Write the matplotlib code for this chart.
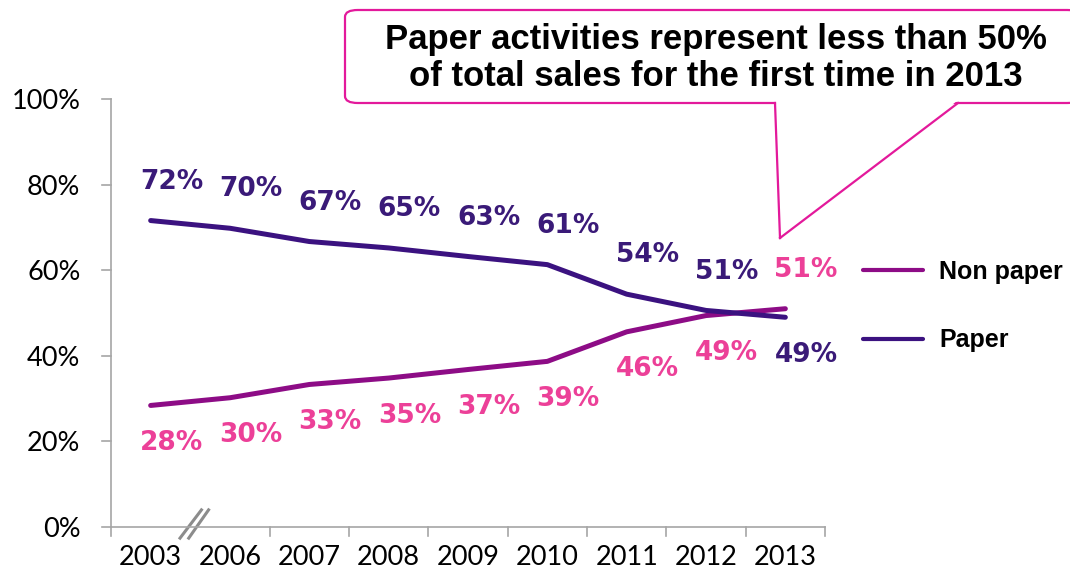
import matplotlib.pyplot as plt
from matplotlib.patches import FancyBboxPatch, Polygon
from matplotlib.lines import Line2D

years = ['2003', '2006', '2007', '2008', '2009', '2010', '2011', '2012', '2013']
paper = [71.6, 69.8, 66.7, 65.2, 63.2, 61.3, 54.4, 50.6, 49.0]
non_paper = [28.4, 30.2, 33.3, 34.8, 36.8, 38.7, 45.6, 49.4, 51.0]
y_ticks = [0, 20, 40, 60, 80, 100]
callout = 'Paper activities represent less than 50%\nof total sales for the first time in 2013'

c_paper = '#3b1280'
c_paper_lbl = '#3a1a78'
c_non = '#8d0c86'
c_non_lbl = '#ec4098'
c_pink = '#e3199b'
c_axis = '#a6a6a6'

W, H = 1070, 573
fig = plt.figure(figsize=(W / 100, H / 100), dpi=100)
ax = fig.add_axes([111 / W, 1 - 527 / H, (825 - 111) / W, (527 - 99) / H])

x = list(range(len(years)))
ln_non, = ax.plot(x, non_paper, color=c_non, lw=3.6, solid_capstyle='round')
ln_pap, = ax.plot(x, paper, color=c_paper, lw=3.6, solid_capstyle='round')

# data labels: higher series above the line, lower one below
for i in x:
    for vals, other, col in ((paper, non_paper, c_paper_lbl), (non_paper, paper, c_non_lbl)):
        v = vals[i]
        above = v >= other[i]
        ax.annotate(f'{round(v)}%', (i, v), xytext=(15, 28 if above else -27),
                    textcoords='offset points', ha='center', va='center',
                    color=col, fontsize=19, fontweight='bold', family='DejaVu Sans')

ax.set_xlim(-0.5, len(years) - 0.5)
ax.set_ylim(0, 100)
ax.set_yticks(y_ticks)
ax.set_yticklabels([f'{t}%' for t in y_ticks])
ax.set_xticks(x)
ax.set_xticklabels(years)
ax.tick_params(axis='x', length=0, pad=13)
ax.tick_params(axis='y', length=0, pad=22)
for lab in ax.get_xticklabels() + ax.get_yticklabels():
    lab.set_family('Lato')
    lab.set_fontsize(19.5)
    lab.set_color('black')

for s in ('top', 'right'):
    ax.spines[s].set_visible(False)
for s in ('left', 'bottom'):
    ax.spines[s].set_color(c_axis)
    ax.spines[s].set_linewidth(1.2)

# tick marks on category boundaries, none at the break
xt = ax.get_xaxis_transform()
for b in [-0.5] + [k + 0.5 for k in range(1, len(years))]:
    ax.plot([b, b], [0, -0.02], color=c_axis, lw=1.2, transform=xt, clip_on=False)
yt = ax.get_yaxis_transform()
for t in y_ticks:
    ax.plot([-0.013, 0], [t, t], color=c_axis, lw=1.2, transform=yt, clip_on=False)

# axis break marks
for x0, x1 in ((0.37, 0.64), (0.48, 0.73)):
    ax.plot([x0, x1], [-0.026, 0.04], color='#8c8c8c', lw=2.2, transform=xt, clip_on=False)

leg = fig.legend([ln_non, ln_pap], ['Non paper', 'Paper'], loc='center left',
                 bbox_to_anchor=(863 / W, 1 - 306 / H), frameon=False,
                 handlelength=2.4, handletextpad=0.65, labelspacing=1.8,
                 borderpad=0, borderaxespad=0,
                 prop={'family': 'Liberation Sans', 'weight': 'bold', 'size': 18})
for h in leg.get_lines():
    h.set_linewidth(3)


def fp(px, py):
    return px / W, 1 - py / H


# callout box with pointer
bx0, by0 = fp(345, 103)
bx1, by1 = fp(1080, 10)
box = FancyBboxPatch((bx0, by0), bx1 - bx0, by1 - by0,
                     boxstyle='round,pad=0,rounding_size=0.012',
                     transform=fig.transFigure, facecolor='white',
                     edgecolor=c_pink, lw=1.6, clip_on=True)
fig.add_artist(box)
wedge = Polygon([fp(776, 101), fp(780, 238), fp(957, 101)], closed=True,
                transform=fig.transFigure, facecolor='white', edgecolor='none')
fig.add_artist(wedge)
for a, b in ((fp(775, 103), fp(780, 238)), (fp(780, 238), fp(958, 103))):
    fig.add_artist(Line2D([a[0], b[0]], [a[1], b[1]], transform=fig.transFigure,
                          color=c_pink, lw=1.6))
tx, ty = fp(716, 58)
fig.text(tx, ty, callout, ha='center', va='center', fontsize=25,
         fontweight='bold', family='Liberation Sans', linespacing=1.15)

fig.savefig('out.png', dpi=100)
